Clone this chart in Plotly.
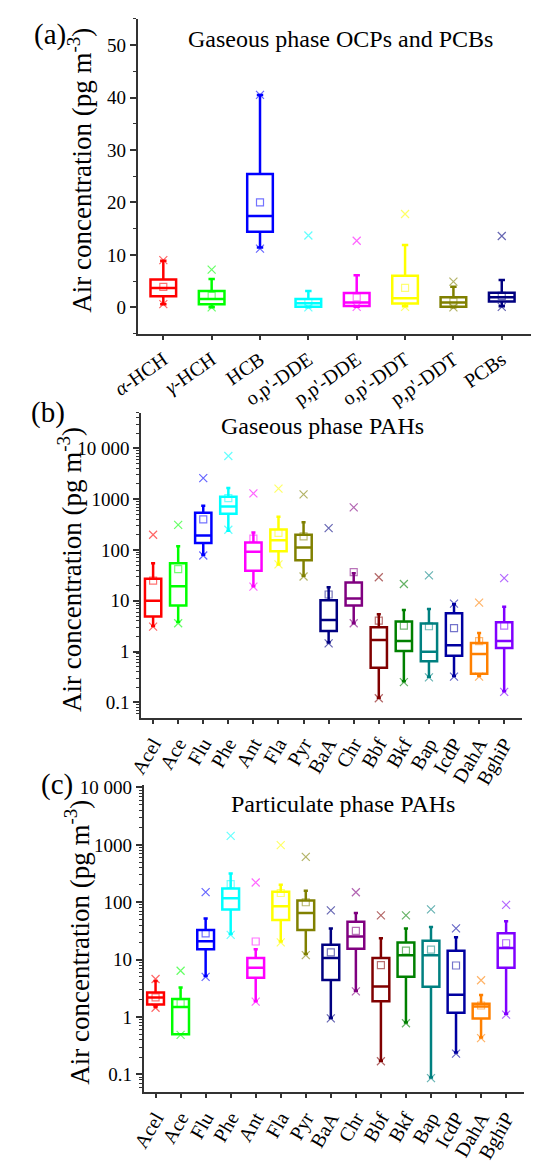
import plotly.graph_objects as go

W, H = 557, 1163
FONT = "Liberation Serif, Times New Roman, serif"

# ---------------- Panel (a) data ----------------
cats_a = ["<i>α</i>-HCH", "<i>γ</i>-HCH", "HCB", "o,p'-DDE", "p,p'-DDE", "o,p'-DDT", "p,p'-DDT", "PCBs"]
a_q1 = [2.1, 0.6, 14.4, 0.1, 0.25, 0.75, 0.1, 1.1]
a_med = [3.7, 1.6, 17.4, 0.8, 0.9, 1.75, 0.9, 1.9]
a_q3 = [5.3, 3.1, 25.4, 1.6, 2.75, 6.0, 1.9, 2.8]
a_lo = [0.6, 0.0, 11.4, 0.0, 0.1, 0.2, 0.0, 0.2]
a_hi = [8.9, 5.4, 40.5, 3.1, 6.1, 11.9, 3.9, 5.2]
a_mean = [3.9, 2.2, 20.0, 1.0, 1.9, 3.7, 1.1, 2.2]
a_min = [0.6, 0.0, 11.2, 0.0, 0.1, 0.1, 0.0, 0.1]
a_max = [9.0, 7.2, 40.5, 13.7, 12.7, 17.8, 4.9, 13.6]
colors_a = ["#FF0000", "#00FF00", "#0000FF", "#00FFFF", "#FF00FF", "#FFFF00", "#808000", "#000080"]

# ---------------- PAH categories ----------------
cats_pah = ["Acel", "Ace", "Flu", "Phe", "Ant", "Fla", "Pyr", "BaA", "Chr", "Bbf", "Bkf", "Bap", "IcdP", "DahA", "BghiP"]
colors_pah = ["#FF0000", "#00FF00", "#0000FF", "#00FFFF", "#FF00FF", "#FFFF00", "#808000", "#000080",
              "#800080", "#800000", "#008000", "#008080", "#0000A0", "#FF8000", "#8000FF"]

# ---------------- Panel (b) data: gaseous PAHs ----------------
b_q1 = [4.9, 8.1, 138, 515, 39, 95, 63, 2.55, 8.1, 0.48, 1.03, 0.64, 0.83, 0.365, 1.18]
b_med = [10, 19.4, 194, 720, 92, 155, 112, 4.2, 11.1, 1.69, 1.61, 0.99, 1.33, 0.89, 1.61]
b_q3 = [27, 55, 540, 1120, 140, 252, 200, 10.2, 23, 3.0, 3.9, 3.55, 5.7, 1.48, 3.77]
b_lo = [3.2, 3.8, 81, 240, 19.4, 52, 31, 1.5, 3.6, 0.123, 0.26, 0.32, 0.33, 0.33, 0.166]
b_hi = [55, 118, 740, 1670, 220, 450, 350, 18.5, 35, 5.4, 6.6, 6.9, 8.5, 2.33, 7.6]
b_mean = [25, 42, 400, 1050, 167, 218, 185, 13.3, 36.5, 4.05, 3.25, 3.15, 2.88, 1.6, 3.25]
b_min = [3.1, 3.6, 78, 250, 19, 52, 30, 1.45, 3.6, 0.12, 0.25, 0.31, 0.32, 0.32, 0.16]
b_max = [200, 312, 2600, 7100, 1300, 1620, 1245, 270, 690, 29, 21.4, 31.6, 8.8, 9.2, 28]

# ---------------- Panel (c) data: particulate PAHs ----------------
c_q1 = [1.65, 0.5, 15.2, 75, 4.85, 49, 33, 4.4, 15.5, 1.88, 5.05, 3.36, 1.19, 0.94, 7.2]
c_med = [2.2, 1.49, 21, 117, 7.2, 85, 65, 10.7, 25.2, 3.4, 11.9, 11.9, 2.45, 1.53, 15.9]
c_q3 = [2.68, 2.07, 33, 174, 10.7, 153, 107, 18.2, 45.6, 10.7, 19.9, 21.3, 14.3, 1.7, 28.7]
c_lo = [1.49, 0.5, 5.2, 28, 1.88, 20.7, 12.5, 0.96, 2.87, 0.174, 0.8, 0.088, 0.24, 0.44, 1.14]
c_hi = [4.26, 3.27, 52, 316, 15.2, 202, 159, 35, 65, 23.6, 35, 37, 24.5, 2.42, 46.8]
c_mean = [2.2, 1.74, 28.7, 207, 20.7, 145, 100, 13.4, 31.6, 8.0, 14.3, 14.9, 7.9, 1.59, 19.3]
c_min = [1.45, 0.49, 5.0, 27, 1.85, 20, 12, 0.95, 2.8, 0.17, 0.78, 0.086, 0.23, 0.43, 1.1]
c_max = [4.6, 6.4, 150, 1430, 221, 990, 618, 72, 149, 59, 59, 75, 35, 4.38, 90]

fig = go.Figure()


def hex_rgba(h, a):
    h = h.lstrip("#")
    return "rgba(%d,%d,%d,%.2f)" % (int(h[0:2], 16), int(h[2:4], 16), int(h[4:6], 16), a)


def add_panel(xa, ya, q1, med, q3, lo, hi, mean, mn, mx, colors, bw):
    for i in range(len(q1)):
        col = colors[i]
        fig.add_trace(go.Box(
            x=[i], q1=[q1[i]], median=[med[i]], q3=[q3[i]],
            lowerfence=[lo[i]], upperfence=[hi[i]],
            orientation="v", boxpoints=False, width=bw, whiskerwidth=0.25,
            line=dict(color=col, width=2.5), fillcolor="rgba(0,0,0,0)",
            xaxis=xa, yaxis=ya, showlegend=False, hoverinfo="skip"))
        fig.add_trace(go.Scatter(
            x=[i], y=[mean[i]], mode="markers",
            marker=dict(symbol="square-open", size=7, color=hex_rgba(col, 0.55), line=dict(width=1.2)),
            xaxis=xa, yaxis=ya, showlegend=False, hoverinfo="skip"))
        fig.add_trace(go.Scatter(
            x=[i, i], y=[mn[i], mx[i]], mode="markers",
            marker=dict(symbol="x-thin-open", size=8, color=hex_rgba(col, 0.6),
                        line=dict(width=1.2, color=hex_rgba(col, 0.6))),
            xaxis=xa, yaxis=ya, showlegend=False, hoverinfo="skip"))


add_panel("x", "y", a_q1, a_med, a_q3, a_lo, a_hi, a_mean, a_min, a_max, colors_a, 0.53)
add_panel("x2", "y2", b_q1, b_med, b_q3, b_lo, b_hi, b_mean, b_min, b_max, colors_pah, 0.65)
add_panel("x3", "y3", c_q1, c_med, c_q3, c_lo, c_hi, c_mean, c_min, c_max, colors_pah, 0.67)

LINE = "#333333"
tickfont = dict(family=FONT, size=19, color="black")
xtickfont = dict(family=FONT, size=20, color="black")


def px_x(p):
    return p / W


def px_y(p):
    return 1 - p / H


def log_minor(lo_exp, hi_exp):
    vals = []
    for e in range(lo_exp, hi_exp + 1):
        for m in range(2, 10):
            vals.append(m * 10 ** e)
    return vals


common_x = dict(showline=True, linecolor=LINE, linewidth=1.5, ticks="outside", ticklen=5,
                tickcolor=LINE, tickwidth=1.5, showgrid=False, zeroline=False, tickfont=xtickfont)
common_y = dict(showline=True, linecolor=LINE, linewidth=1.5, ticks="outside", ticklen=6,
                tickcolor=LINE, tickwidth=1.5, showgrid=False, zeroline=False, tickfont=tickfont)

log_ticks = [0.1, 1, 10, 100, 1000, 10000]
log_text = ["0.1", "1", "10", "100", "1000", "10 000"]

fig.update_layout(
    width=W, height=H, margin=dict(l=0, r=0, t=0, b=0),
    paper_bgcolor="white", plot_bgcolor="white",
    xaxis=dict(domain=[px_x(117), px_x(530)], range=[-0.533, 7.61], anchor="y",
               tickmode="array", tickvals=list(range(8)), ticktext=cats_a, tickangle=-35, **common_x),
    yaxis=dict(domain=[px_y(331.7), px_y(12)], range=[-5, 55], anchor="x",
               tickmode="array", tickvals=[0, 10, 20, 30, 40, 50],
               minor=dict(tickmode="array", tickvals=[-5, 5, 15, 25, 35, 45, 55], ticks="outside",
                          ticklen=3, tickcolor=LINE, tickwidth=1.2),
               **common_y),
    xaxis2=dict(domain=[px_x(120.7), px_x(520)], range=[-0.48, 14.7], anchor="y2",
                tickmode="array", tickvals=list(range(15)), ticktext=cats_pah, tickangle=-60, **common_x),
    yaxis2=dict(domain=[px_y(721.7), px_y(412.3)], type="log", range=[-1.3, 4.7], anchor="x2",
                tickmode="array", tickvals=log_ticks, ticktext=log_text,
                minor=dict(tickmode="array", tickvals=log_minor(-2, 4), ticks="outside",
                           ticklen=3, tickcolor=LINE, tickwidth=1.2),
                **common_y),
    xaxis3=dict(domain=[px_x(123.3), px_x(522)], range=[-0.48, 14.7], anchor="y3",
                tickmode="array", tickvals=list(range(15)), ticktext=cats_pah, tickangle=-60, **common_x),
    yaxis3=dict(domain=[px_y(1101.7), px_y(789.8)], type="log", range=[-1.3, 4.05], anchor="x3",
                tickmode="array", tickvals=log_ticks, ticktext=log_text,
                minor=dict(tickmode="array", tickvals=log_minor(-2, 4), ticks="outside",
                           ticklen=3, tickcolor=LINE, tickwidth=1.2),
                **common_y),
)

ann = []
ytitle = "Air concentration (pg m<sup>-3</sup>)"
for (cx, cy) in [(57, 166), (46, 571), (54, 950)]:
    ann.append(dict(text=ytitle, x=px_x(cx), y=px_y(cy), xref="paper", yref="paper",
                    xanchor="center", yanchor="middle", textangle=-90, showarrow=False,
                    font=dict(family=FONT, size=27, color="black")))
for (txt, cx, cy) in [("Gaseous phase OCPs and PCBs", 330, 33), ("Gaseous phase PAHs", 311, 426),
                      ("Particulate phase PAHs", 333, 810)]:
    ann.append(dict(text=txt, x=px_x(cx), y=px_y(cy), xref="paper", yref="paper",
                    xanchor="center", yanchor="middle", showarrow=False,
                    font=dict(family=FONT, size=24, color="black")))
for (txt, cx, cy) in [("(a)", 25, 28), ("(b)", 23, 412), ("(c)", 32, 790)]:
    ann.append(dict(text=txt, x=px_x(cx), y=px_y(cy), xref="paper", yref="paper",
                    xanchor="center", yanchor="middle", showarrow=False,
                    font=dict(family=FONT, size=29, color="black")))
fig.update_layout(annotations=ann)

fig.write_html("out.html")
